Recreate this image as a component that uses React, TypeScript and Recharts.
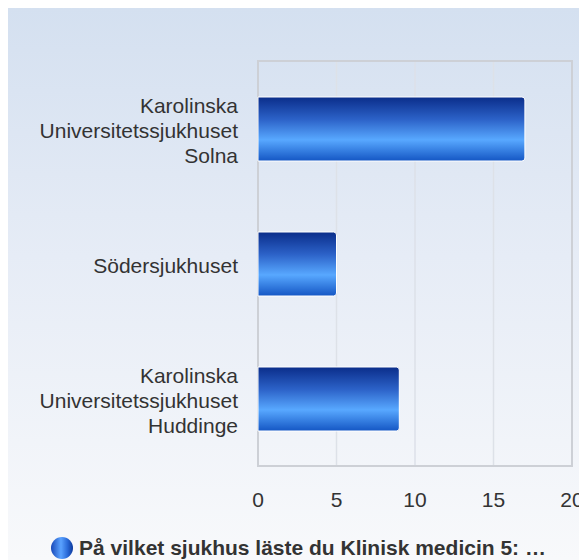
import React from 'react';
import {
  BarChart,
  Bar,
  XAxis,
  YAxis,
  CartesianGrid,
  Legend,
  ReferenceArea,
} from 'recharts';

// values
const hospitals = [
  'Karolinska Universitetssjukhuset Solna',
  'Södersjukhuset',
  'Karolinska Universitetssjukhuset Huddinge',
];
const labelLines = [
  ['Karolinska', 'Universitetssjukhuset', 'Solna'],
  ['Södersjukhuset'],
  ['Karolinska', 'Universitetssjukhuset', 'Huddinge'],
];
const counts = [17, 5, 9];
const xTicks = [0, 5, 10, 15, 20];
const seriesName = 'På vilket sjukhus läste du Klinisk medicin 5: …';

const data = hospitals.map((name, i) => ({ name, value: counts[i] }));

const FONT = '"Liberation Sans", Arial, sans-serif';
const TEXT = '#333333';

const HospitalTick = (props: any) => {
  const { x, y, payload } = props;
  const idx = hospitals.indexOf(payload.value);
  const lines = labelLines[idx] || [payload.value];
  const start = -((lines.length - 1) / 2) * 25;
  return (
    <g>
      {lines.map((line, i) => (
        <text
          key={line + i}
          x={x}
          y={y + start + i * 25 + 9}
          textAnchor="end"
          fontSize={21}
          fontFamily={FONT}
          fill={TEXT}
        >
          {line}
        </text>
      ))}
    </g>
  );
};

const LegendBox = () => (
  <div
    style={{
      display: 'flex',
      justifyContent: 'center',
      alignItems: 'center',
      height: 24,
      paddingLeft: 17,
      fontFamily: FONT,
    }}
  >
    <span
      style={{
        width: 22,
        height: 22,
        borderRadius: '50%',
        marginRight: 6,
        background: 'linear-gradient(to right, #1848b8 0%, #5aa2ff 45%, #2a6ad8 75%, #0d3a9c 100%)',
        display: 'inline-block',
        flexShrink: 0,
      }}
    />
    <span style={{ fontSize: 21, fontWeight: 'bold', color: TEXT, whiteSpace: 'nowrap' }}>{seriesName}</span>
  </div>
);

export default function App() {
  React.useLayoutEffect(() => {
    // keep scrollbars away; the chart runs to the window edge
    document.documentElement.style.overflow = 'hidden';
  }, []);

  return (
    <div
      style={{
        width: 579,
        height: 552,
        background: 'linear-gradient(to bottom, #d4e0f0 0%, #e6ecf6 45%, #f8f9fb 100%)',
        fontFamily: FONT,
      }}
    >
      <BarChart
        width={579}
        height={552}
        data={data}
        layout="vertical"
        margin={{ top: 53, right: 15, left: 0, bottom: 0 }}
        style={{ overflow: 'visible' }}
      >
        <defs>
          <linearGradient id="barFill" x1="0" y1="0" x2="0" y2="1">
            <stop offset="0%" stopColor="#0a2d8a" />
            <stop offset="35%" stopColor="#2c62c8" />
            <stop offset="67%" stopColor="#58a8ff" />
            <stop offset="100%" stopColor="#1456c4" />
          </linearGradient>
        </defs>
        <CartesianGrid horizontal={false} stroke="#dde1e8" strokeWidth={1.5} />
        <ReferenceArea x1={0} x2={20} fill="none" fillOpacity={0} stroke="#cdd0d6" strokeWidth={2} />
        <XAxis
          type="number"
          domain={[0, 20]}
          ticks={xTicks}
          height={70}
          axisLine={false}
          tickLine={false}
          tickSize={0}
          tickMargin={26}
          tick={{ fontSize: 21, fill: TEXT, fontFamily: FONT }}
        />
        <YAxis
          type="category"
          dataKey="name"
          width={250}
          axisLine={false}
          tickLine={false}
          tickSize={0}
          tickMargin={20}
          tick={<HospitalTick />}
        />
        <Legend verticalAlign="bottom" content={<LegendBox />} />
        <Bar
          dataKey="value"
          name={seriesName}
          fill="url(#barFill)"
          stroke="#ffffff"
          strokeWidth={1}
          barSize={64}
          radius={[0, 3, 3, 0]}
          isAnimationActive={false}
        />
      </BarChart>
    </div>
  );
}
